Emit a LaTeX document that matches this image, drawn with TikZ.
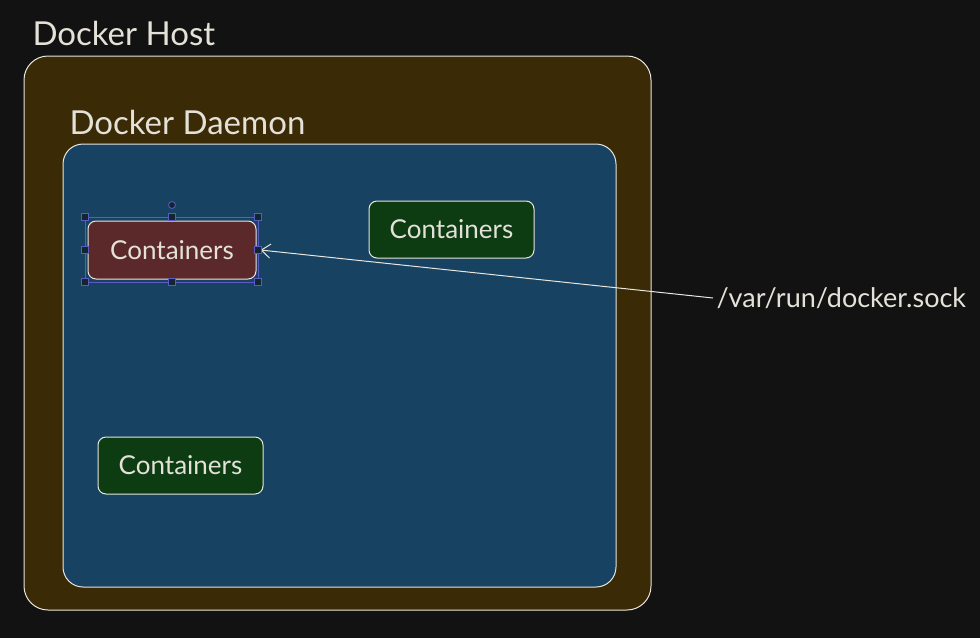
\documentclass[tikz,border=0pt]{standalone}
\usepackage{fontspec}
\setmainfont{Lato}
\usetikzlibrary{arrows.meta}

\definecolor{bg}{HTML}{121212}
\definecolor{hostfill}{HTML}{3A2A06}
\definecolor{daemonfill}{HTML}{184262}
\definecolor{greenfill}{HTML}{0D3B12}
\definecolor{redfill}{HTML}{5B2929}
\definecolor{ink}{HTML}{E4E2D8}
\definecolor{selblue}{HTML}{5B5BC4}

\tikzset{
  frame/.style={draw=ink!85,line width=1pt,rounded corners=#1,inner sep=0pt},
  ctr/.style={frame=8pt,minimum width=165pt,minimum height=57pt,
    font=\fontsize{26}{30}\selectfont,text=ink},
  title/.style={anchor=west,text=ink,font=\fontsize{33}{38}\selectfont},
  handle/.style={draw=selblue,fill=bg!60!daemonfill,line width=0.8pt}
}

\begin{document}
\begin{tikzpicture}[x=1pt,y=-1pt]
     \fill[bg] (0,0) rectangle (980,638);
     \useasboundingbox (0,0) rectangle (980,638);
     \node[frame=24pt,fill=hostfill,minimum width=627pt,minimum height=554pt] (host) at (337.5,333) {};
     \node[title] (hostlbl) at (29,33) {Docker Host};
     \node[frame=20pt,fill=daemonfill,minimum width=553pt,minimum height=443pt] (daemon) at (339.5,365.5) {};
     \node[title] (daemonlbl) at (66,122) {Docker Daemon};
     \node[ctr,fill=redfill,minimum width=168pt,minimum height=58pt] (ctrA) at (172,250) {Containers};
     \node[ctr,fill=greenfill] (ctrB) at (451.5,229.5) {Containers};
     \node[ctr,fill=greenfill] (ctrC) at (180.5,465.5) {Containers};
     \node[anchor=west,text=ink,font=\fontsize{27}{30}\selectfont] (sock) at (713,298) {/var/run/docker.sock};
     \draw[ink!85,line width=1pt,-{Straight Barb[length=9pt,width=14pt]}] (sock.west) -- ([xshift=4pt]ctrA.east);
     \draw[selblue,line width=0.8pt] (85,217) rectangle (258,282);
     \foreach \x/\y in {85/217,172/217,258/217,85/249.5,258/249.5,85/282,172/282,258/282}
         \filldraw[handle] (\x-3.5,\y-3.5) rectangle (\x+3.5,\y+3.5);
     \filldraw[handle] (172,205) circle (3.5pt);
    \end{tikzpicture}
\end{document}
